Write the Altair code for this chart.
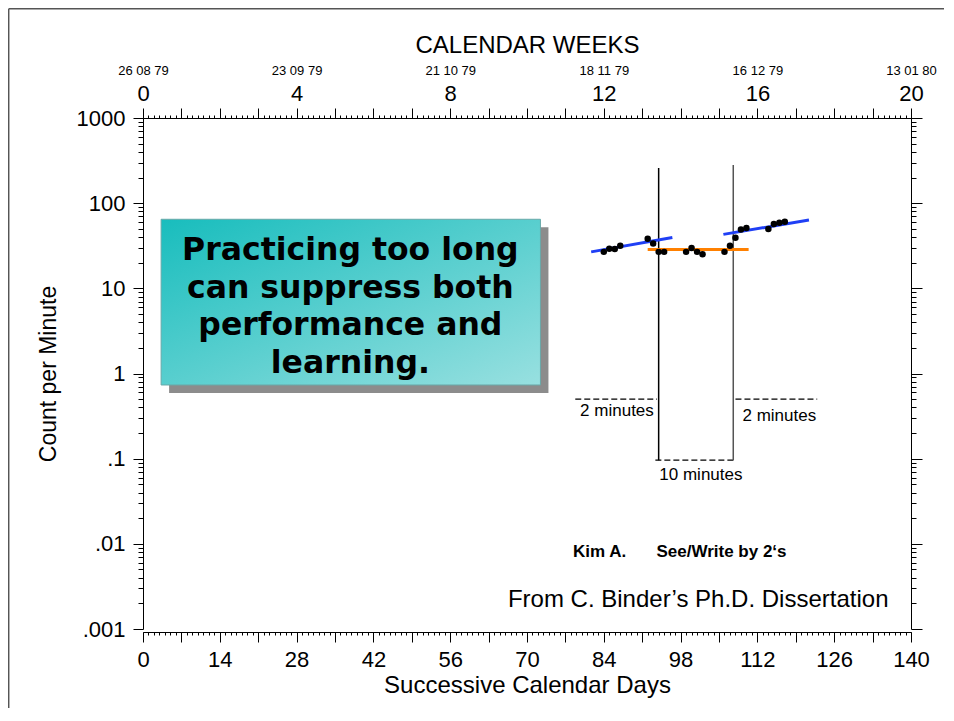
import json
import altair as alt
import pandas as pd

# ---------------- data ----------------
DAYS = [84, 85, 86, 87, 92, 93, 94, 95, 99, 100, 101, 102, 106, 107, 108, 109, 110, 114, 115, 116, 117]
COUNTS = [26.8, 29.1, 28.9, 31.6, 38.2, 33.7, 26.8, 26.8, 26.8, 29.7, 26.8, 25.2,
          26.8, 31.6, 39.2, 49.2, 51.0, 49.6, 56.8, 58.8, 60.5]

TREND_NAME = ["before", "long practice", "after"]
TREND_X1 = [81.7, 92.0, 105.8]
TREND_X2 = [96.5, 110.4, 121.4]
TREND_Y1 = [26.8, 28.6, 43.0]
TREND_Y2 = [39.6, 28.6, 63.3]

PHASE_DAY = [94.0, 107.6]
PHASE_TOP = [258, 281]
PHASE_BOTTOM = [0.096, 0.096]

FLOOR_X1 = [78.8, 93.4, 108.0]
FLOOR_X2 = [93.7, 107.7, 122.9]
FLOOR_Y = [0.5, 0.096, 0.5]
FLOOR_LABEL = ["2 minutes", "10 minutes", "2 minutes"]
FLOOR_LABEL_X = [86.4, 101.7, 116.0]
FLOOR_LABEL_Y = [0.363, 0.0643, 0.317]

BOX_X = [3.3, 72.45]
BOX_Y = [64.7, 0.733]
BOX_TEXT_POS = [37.8, 27.1]
BOX_LINES = ["Practicing too long", "can suppress both", "performance and", "learning."]

CAPTION_TEXT = ["Kim A.", "See/Write by 2\u2018s"]
CAPTION_X = [78.4, 93.6]
CAPTION_Y = [0.00809, 0.00809]
SOURCE_TEXT = "From C. Binder\u2019s Ph.D. Dissertation"
SOURCE_POS = [135.9, 0.00219]

WEEK_DATES = ["26 08 79", "23 09 79", "21 10 79", "18 11 79", "16 12 79", "13 01 80"]
DECADE_LABELS = [".001", ".01", ".1", "1", "10", "100", "1000"]
DECADES = [0.001, 0.01, 0.1, 1, 10, 100, 1000]
MINOR = [round(m * d, 6) for d in DECADES[:-1] for m in range(2, 10)]
DAY_ALL = list(range(0, 141))
DAY_WEEKS = list(range(0, 141, 7))
DAY_MONTHS = list(range(0, 141, 28))

# ---------------- styles ----------------
FONT = "Liberation Sans"
TREND_COLORS = ["#1f3ff5", "#ff8000", "#1f3ff5"]

XS = alt.Scale(domain=[0, 140], nice=False, zero=False)
YS = alt.Scale(type="log", domain=[0.001, 1000], nice=False)


def ax(**kw):
    base = dict(grid=False, labelFont=FONT, titleFont=FONT, labelColor="black",
                titleColor="black", domainColor="black", tickColor="black",
                labelOverlap=False, labelFlush=False, titleFontWeight="normal",
                domainWidth=1, tickWidth=1)
    base.update(kw)
    return alt.Axis(**base)


axis_df = pd.DataFrame({"day": [0], "count": [1]})


def axis_layer(xaxis, yaxis):
    return alt.Chart(axis_df).mark_point(opacity=0).encode(
        x=alt.X("day:Q", scale=XS, axis=xaxis),
        y=alt.Y("count:Q", scale=YS, axis=yaxis),
    )


dates_expr = json.dumps(WEEK_DATES) + "[round(datum.value / 28)]"
decade_expr = json.dumps(DECADE_LABELS) + "[round(log(datum.value) / LN10) + 3]"

b1 = ax(orient="bottom", values=DAY_WEEKS, tickSize=10, offset=3,
        labelExpr="datum.value % 14 == 0 ? '' + datum.value : ''",
        labelFontSize=22, labelPadding=7,
        title="Successive Calendar Days", titleFontSize=24, titlePadding=3)
b2 = ax(orient="bottom", values=DAY_ALL, tickSize=3, offset=3, labels=False, domain=False, title="")
t1 = ax(orient="top", values=DAY_WEEKS, tickSize=10,
        labelExpr="datum.value % 28 == 0 ? '' + (datum.value / 7) : ''",
        labelFontSize=22, labelPadding=3, title="")
t2 = ax(orient="top", values=DAY_ALL, tickSize=3, labels=False, domain=False, title="")
t3 = ax(orient="top", values=DAY_MONTHS, ticks=False, tickSize=0, domain=False,
        labelExpr=dates_expr, labelFontSize=13, labelPadding=41,
        title="CALENDAR WEEKS", titleFontSize=24, titlePadding=7)
l1 = ax(orient="left", values=DECADES, tickSize=10, labelExpr=decade_expr,
        labelFontSize=22, labelPadding=8,
        title="Count per Minute", titleFontSize=23, titlePadding=16)
l2 = ax(orient="left", values=MINOR, tickSize=5, labels=False, domain=False, title="")
r1 = ax(orient="right", values=DECADES, tickSize=11, labels=False, title="")
r2 = ax(orient="right", values=MINOR, tickSize=5, labels=False, domain=False, title="")

axes = [axis_layer(b1, l1), axis_layer(b2, l2), axis_layer(t1, r1),
        axis_layer(t2, r2), axis_layer(t3, None)]


def X(f):
    return alt.X(f"{f}:Q", scale=XS, axis=None)


def Y(f):
    return alt.Y(f"{f}:Q", scale=YS, axis=None)


# ---------------- frame of the slide ----------------
one = pd.DataFrame({"a": [0]})
frame_v = alt.Chart(one).mark_rule(color="#555555", strokeWidth=1.5).encode(
    x=alt.value(-134.3), y=alt.value(-109.3), y2=alt.value(700))
frame_h = alt.Chart(one).mark_rule(color="#555555", strokeWidth=1.5).encode(
    x=alt.value(-134.3), x2=alt.value(900), y=alt.value(-109.3))

# ---------------- text box ----------------
box_df = pd.DataFrame({"x1": [BOX_X[0]], "x2": [BOX_X[1]], "y1": [BOX_Y[0]], "y2": [BOX_Y[1]]})
shadow = alt.Chart(box_df).mark_rect(color="#8c8c8c", xOffset=8, x2Offset=8, yOffset=8, y2Offset=8).encode(
    x=X("x1"), x2="x2", y=Y("y1"), y2="y2")
box = alt.Chart(box_df).mark_rect(
    fill=alt.LinearGradient(gradient="linear", x1=0, y1=0, x2=1, y2=1,
                            stops=[alt.GradientStop(color="#18bdbd", offset=0),
                                   alt.GradientStop(color="#98e0e0", offset=1)]),
    stroke="#6aa8a8", strokeWidth=1).encode(x=X("x1"), x2="x2", y=Y("y1"), y2="y2")
box_text = alt.Chart(pd.DataFrame({"x": [BOX_TEXT_POS[0]], "y": [BOX_TEXT_POS[1]]})).mark_text(
    text=BOX_LINES, font="DejaVu Sans", fontWeight="bold", fontSize=31.5, lineHeight=37.5,
    align="center", baseline="middle", color="black").encode(x=X("x"), y=Y("y"))

# ---------------- floors ----------------
floor_df = pd.DataFrame({"x1": FLOOR_X1, "x2": FLOOR_X2, "y": FLOOR_Y})
floors = alt.Chart(floor_df).mark_rule(color="black", strokeWidth=1.2, strokeDash=[6, 3]).encode(
    x=X("x1"), x2="x2", y=Y("y"))
floor_lbl = alt.Chart(pd.DataFrame({"x": FLOOR_LABEL_X, "y": FLOOR_LABEL_Y, "t": FLOOR_LABEL})).mark_text(
    font=FONT, fontSize=17, color="black", align="center", baseline="middle").encode(
    x=X("x"), y=Y("y"), text="t:N")

# ---------------- phase change lines ----------------
phase_df = pd.DataFrame({"day": PHASE_DAY, "top": PHASE_TOP, "bottom": PHASE_BOTTOM, "i": [0, 1]})
phases = alt.Chart(phase_df).mark_rule(strokeWidth=1.5).encode(
    x=X("day"), y=Y("top"), y2="bottom",
    color=alt.condition("datum.i == 1", alt.value("#555555"), alt.value("black")))

# ---------------- trend lines ----------------
trend_df = pd.DataFrame({"x1": TREND_X1, "x2": TREND_X2, "y1": TREND_Y1, "y2": TREND_Y2, "phase": TREND_NAME})
trends = alt.Chart(trend_df).mark_rule(strokeWidth=3).encode(
    x=X("x1"), x2="x2", y=Y("y1"), y2="y2",
    color=alt.Color("phase:N", scale=alt.Scale(domain=TREND_NAME, range=TREND_COLORS), legend=None))

# ---------------- data points ----------------
pts = alt.Chart(pd.DataFrame({"day": DAYS, "count": COUNTS})).mark_circle(
    size=42, color="black", opacity=1).encode(x=X("day"), y=Y("count"))

# ---------------- captions ----------------
caption = alt.Chart(pd.DataFrame({"x": CAPTION_X, "y": CAPTION_Y, "t": CAPTION_TEXT})).mark_text(
    font=FONT, fontSize=17, fontWeight="bold", color="black", align="left", baseline="middle").encode(
    x=X("x"), y=Y("y"), text="t:N")
source = alt.Chart(pd.DataFrame({"x": [SOURCE_POS[0]], "y": [SOURCE_POS[1]], "t": [SOURCE_TEXT]})).mark_text(
    font=FONT, fontSize=24, color="black", align="right", baseline="middle").encode(
    x=X("x"), y=Y("y"), text="t:N")

chart = alt.layer(
    frame_v, frame_h, shadow, box, box_text, floors, floor_lbl, phases, trends, pts,
    caption, source, *axes
).resolve_axis(x="independent", y="independent").properties(
    width=768, height=511,
    padding={"left": 135, "top": 110, "right": 33, "bottom": 79},
    autosize=alt.AutoSizeParams(type="none"),
    background="white",
).configure_view(stroke="transparent")

chart.save("out.html", embed_options={"renderer": "svg", "actions": False})
